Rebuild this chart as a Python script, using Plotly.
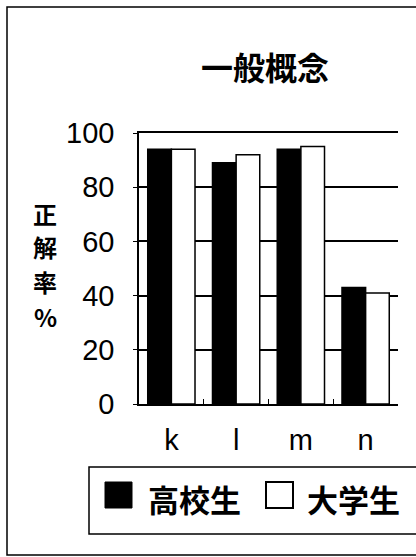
import plotly.graph_objects as go

categories = ["k", "l", "m", "n"]
high_school = [94, 89, 94, 43]
university = [94, 92, 95, 41]
series_names = ["高校生", "大学生"]
y_ticks = [0, 20, 40, 60, 80, 100]
title_text = "一般概念"
y_title_chars = ["正", "解", "率", "%"]

W, H = 416, 557
def px(x): return x / W
def py(y): return 1 - y / H

fig = go.Figure()
fig.add_trace(go.Bar(x=categories, y=high_school, name=series_names[0],
                     marker=dict(color="black", line=dict(color="black", width=1.5))))
fig.add_trace(go.Bar(x=categories, y=university, name=series_names[1],
                     marker=dict(color="white", line=dict(color="black", width=1.5))))

font_main = "Liberation Sans, Arial, sans-serif"
font_cjk = "Noto Sans CJK JP, sans-serif"

fig.update_layout(
    template="none",
    width=W, height=H, margin=dict(l=0, r=0, t=0, b=0, pad=0, autoexpand=False),
    paper_bgcolor="white", plot_bgcolor="white",
    barmode="group", bargap=0.27, bargroupgap=0,
    showlegend=False,
    xaxis=dict(domain=[px(139), px(398)], showline=True, linecolor="black", linewidth=1.5,
               mirror=True, ticks="inside", tickson="boundaries", ticklen=5, tickcolor="black",
               tickfont=dict(family=font_main, size=29, color="black"), ticklabelstandoff=9,
               showgrid=False, automargin=False),
    yaxis=dict(domain=[py(404), py(133)], range=[0, 100], tickvals=y_ticks,
               showline=True, linecolor="black", linewidth=1.5,
               showgrid=True, gridcolor="black", gridwidth=1.5,
               ticks="outside", ticklen=4, tickcolor="black",
               tickfont=dict(family=font_main, size=29, color="black"), ticklabelstandoff=13,
               zeroline=False, automargin=False),
)

shapes = []
# outer border
shapes.append(dict(type="rect", xref="paper", yref="paper", x0=px(7), x1=px(425), y0=py(555), y1=py(7),
                   line=dict(color="black", width=1.5)))
# legend box
shapes.append(dict(type="rect", xref="paper", yref="paper", x0=px(89), x1=px(425), y0=py(534), y1=py(467),
                   line=dict(color="black", width=1.5), fillcolor="white"))
# legend symbols
shapes.append(dict(type="rect", xref="paper", yref="paper", x0=px(105), x1=px(132), y0=py(508), y1=py(482),
                   line=dict(color="black", width=1), fillcolor="black"))
shapes.append(dict(type="rect", xref="paper", yref="paper", x0=px(266), x1=px(293), y0=py(508), y1=py(482),
                   line=dict(color="black", width=2), fillcolor="white"))
fig.update_layout(shapes=shapes)

ann = []
ann.append(dict(text=f"<b>{title_text}</b>", x=px(265), y=py(66), xref="paper", yref="paper",
                showarrow=False, font=dict(family=font_cjk, size=32, color="black"),
                xanchor="center", yanchor="middle"))
for ch, yc in zip(y_title_chars, [213, 247, 281, 316]):
    ann.append(dict(text=f"<b>{ch}</b>", x=px(45), y=py(yc), xref="paper", yref="paper",
                    showarrow=False, borderpad=0, font=dict(family=font_cjk, size=24, color="black"),
                    xanchor="center", yanchor="middle"))
ann.append(dict(text=f"<b>{series_names[0]}</b>", x=px(146), y=py(498), xref="paper", yref="paper",
                showarrow=False, font=dict(family=font_cjk, size=31, color="black"),
                xanchor="left", yanchor="middle"))
ann.append(dict(text=f"<b>{series_names[1]}</b>", x=px(305), y=py(498), xref="paper", yref="paper",
                showarrow=False, font=dict(family=font_cjk, size=31, color="black"),
                xanchor="left", yanchor="middle"))
fig.update_layout(annotations=ann)

fig.write_html("out.html", config={"displayModeBar": False},
               post_script="document.body.style.margin='0';document.body.style.overflow='hidden';")
